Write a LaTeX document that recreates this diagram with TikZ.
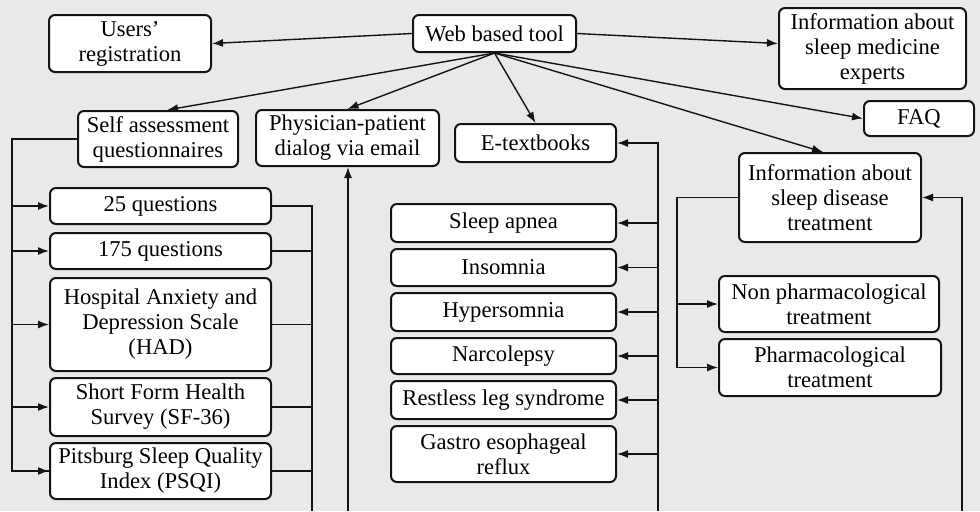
\documentclass[tikz,border=0pt]{standalone}
\usepackage{fontspec}
\setmainfont{Liberation Serif}
\usetikzlibrary{arrows.meta, positioning}
\definecolor{pagebg}{RGB}{233,233,233}
\definecolor{mydark}{RGB}{20,20,20}
\tikzset{
  box/.style={rectangle, draw=mydark, fill=white, align=center,
    rounded corners=3pt, line width=1pt, inner sep=1pt,
    font={\fontsize{11.3}{12.5}\selectfont}},
  qbox/.style={box, minimum width=110.5pt},
  dbox/.style={box, minimum width=112.5pt},
  arrow/.style={-{Latex[length=5.5pt,width=4pt]}, line width=0.7pt, color=mydark},
  line/.style={line width=0.7pt, color=mydark}
}

\begin{document}
\begin{tikzpicture}[x=0.5pt, y=-0.5pt]
  \fill[pagebg] (0,0) rectangle (980,511);
  \useasboundingbox (0,0) rectangle (980,511);

  % top row
  \node[box, minimum width=81.5pt, minimum height=18.5pt] (web) at (494.5,33.5) {Web based tool};
  \node[box, minimum width=81pt, minimum height=28.5pt] (users) at (130,43.5) {Users'\\registration};
  \node[box, minimum width=93.5pt, minimum height=40.5pt] (experts) at (872.5,48.5) {Information about\\sleep medicine\\experts};
  \node[box, minimum width=55pt, minimum height=17.5pt] (faq) at (919,118.5) {FAQ};
  \node[box, minimum width=80pt, minimum height=28pt] (self) at (158,139) {Self assessment\\questionnaires};
  \node[box, minimum width=91.5pt, minimum height=28pt] (phys) at (347.5,138) {Physician-patient\\dialog via email};
  \node[box, minimum width=80.5pt, minimum height=19pt] (etext) at (535.5,143) {E-textbooks};
  \node[box, minimum width=91pt, minimum height=44.5pt] (treat) at (830,197.5) {Information about\\sleep disease\\treatment};

  % questionnaires
  \node[qbox, minimum height=18pt] (q25) at (160.5,206) {25 questions};
  \node[qbox, minimum height=18pt, below=3.5pt of q25] (q175) {175 questions};
  \node[qbox, minimum height=46.5pt, below=3.5pt of q175] (had) {Hospital Anxiety and\\Depression Scale\\(HAD)};
  \node[qbox, minimum height=29pt, below=2.5pt of had] (sf) {Short Form Health\\Survey (SF-36)};
  \node[qbox, minimum height=28pt, below=2.5pt of sf] (psqi) {Pitsburg Sleep Quality\\Index (PSQI)};

  % sleep disorders
  \node[dbox, minimum height=19pt] (apnea) at (503.5,223) {Sleep apnea};
  \node[dbox, minimum height=18.5pt, below=2.5pt of apnea] (insom) {Insomnia};
  \node[dbox, minimum height=19pt, below=2.5pt of insom] (hyper) {Hypersomnia};
  \node[dbox, minimum height=18pt, below=2.5pt of hyper] (narco) {Narcolepsy};
  \node[dbox, minimum height=19pt, below=2.5pt of narco] (rls) {Restless leg syndrome};
  \node[dbox, minimum height=28pt, below=2.5pt of rls] (gerd) {Gastro esophageal\\reflux};

  % treatments
  \node[box, minimum width=110pt, minimum height=28pt] (nonph) at (829,304) {Non pharmacological\\treatment};
  \node[box, minimum width=111pt, minimum height=28.5pt] (pharm) at (830,367.5) {Pharmacological\\treatment};

  % fan out of the web tool
  \draw[arrow] (web.west) -- (users.east);
  \draw[arrow] (web.south) -- ([xshift=4.5pt]self.north);
  \draw[arrow] (web.south) -- (phys.north);
  \draw[arrow] (web.south) -- (etext.north);
  \draw[arrow] (web.east) -- ([yshift=2.5pt]experts.west);
  \draw[arrow] (web.south) -- (faq.west);
  \draw[arrow] (web.south) -- ([xshift=-3.5pt]treat.north);

  % questionnaires bus
  \coordinate (qtop) at (12,139);
  \draw[line] (self.west) -- (qtop) |- (psqi.west);
  \foreach \q in {q25,q175,had,sf,psqi}
    \draw[arrow] (qtop |- \q.west) -- (\q.west);
  \coordinate (qout) at (312,511);
  \draw[line] (q25.east) -| (qout);
  \foreach \q in {q175,had,sf,psqi}
    \draw[line] (\q.east) -- (\q.east -| qout);
  \coordinate (pin) at (348,511);
  \draw[arrow] (pin) -- (pin |- phys.south);

  % e-textbooks bus
  \coordinate (ebus) at (658,511);
  \draw[arrow] (ebus) |- (etext.east);
  \foreach \d in {apnea,insom,hyper,narco,rls,gerd}
    \draw[arrow] (ebus |- \d.east) -- (\d.east);

  % treatment
  \coordinate (tleft) at (677,197.5);
  \draw[arrow] (treat.west) -- (tleft) |- (pharm.west);
  \draw[arrow] (tleft |- nonph.west) -- (nonph.west);
  \coordinate (tin) at (962,511);
  \draw[arrow] (tin) |- (treat.east);
\end{tikzpicture}
\end{document}
